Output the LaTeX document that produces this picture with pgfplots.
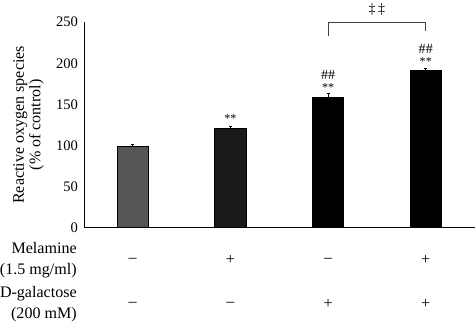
\documentclass[border=0pt]{standalone}
\usepackage{fontspec}
\setmainfont{Liberation Serif}
\usepackage{pgfplots}
\pgfplotsset{compat=1.18}
\definecolor{barA}{HTML}{555555}
\definecolor{barB}{HTML}{1A1A1A}
\definecolor{barC}{HTML}{000000}
\begin{document}
\begin{tikzpicture}
\begin{axis}[
  scale only axis,
  width=388bp, height=204bp,
  xmin=-0.5, xmax=3.5,
  ymin=0, ymax=250,
  ytick={0,50,100,150,200,250},
  xtick=\empty,
  axis x line=bottom, axis y line=left,
  axis line style={-, black, line width=0.8pt},
  major tick length=0pt,
  tick label style={font=\fontsize{14.5}{16}\selectfont},
  /pgf/number format/assume math mode=true,
  yticklabel style={xshift=-2.5bp},
  ylabel={Reactive oxygen species\\(\% of control)},
  ylabel style={align=center, font=\fontsize{16}{16.5}\selectfont, at={(axis description cs:-0.142,0.5)}, anchor=center},
  clip=false,
  ybar, bar width=0.32, bar shift=0pt,
]
\addplot[fill=barA, draw=black, line width=0.6pt, error bars/.cd, y dir=plus, y explicit, error bar style={black, line width=0.6pt}, error mark options={rotate=90, mark size=1.5pt, black}]
  coordinates {(0,99.5) +- (0,1.5)};
\addplot[fill=barB, draw=black, line width=0.6pt, error bars/.cd, y dir=plus, y explicit, error bar style={black, line width=0.6pt}, error mark options={rotate=90, mark size=1.5pt, black}]
  coordinates {(1,120.5) +- (0,2.5)};
\addplot[fill=barC, draw=black, line width=0.6pt, error bars/.cd, y dir=plus, y explicit, error bar style={black, line width=0.6pt}, error mark options={rotate=90, mark size=1.5pt, black}]
  coordinates {(2,158) +- (0,5.5)};
\addplot[fill=barC, draw=black, line width=0.6pt, error bars/.cd, y dir=plus, y explicit, error bar style={black, line width=0.6pt}, error mark options={rotate=90, mark size=1.5pt, black}]
  coordinates {(3,191) +- (0,3)};
% significance marks
\def\sigfont{\fontsize{12}{13}\selectfont}
\def\hashfont{\fontsize{14}{15}\selectfont}
\node[font=\sigfont] at (axis cs:1,133) {**};
\node[font=\sigfont] at (axis cs:2,170) {**};
\node[font=\hashfont] at (axis cs:2,186) {\#\#};
\node[font=\sigfont] at (axis cs:3,202) {**};
\node[font=\hashfont] at (axis cs:3,218) {\#\#};
% bracket
\draw[line width=0.7pt, black!75] (axis cs:2,233) -- (axis cs:2,250) -- (axis cs:3,250) -- (axis cs:3,239);
\node[font=\fontsize{14}{15}\selectfont] at (axis cs:2.5,266) {\ddag\,\ddag};
% treatment table
\def\rowfont{\fontsize{16}{21}\selectfont}
\node[anchor=east, align=right, font=\rowfont, inner sep=0pt] at ([xshift=-7bp]axis cs:-0.5,-39.8) {Melamine\\(1.5 mg/ml)};
\node[anchor=east, align=right, font=\rowfont, inner sep=0pt] at ([xshift=-7bp]axis cs:-0.5,-93.1) {D-galactose\\(200 mM)};
\node[font=\rowfont] at (axis cs:0,-39.8) {–};
\node[font=\rowfont] at (axis cs:1,-39.8) {+};
\node[font=\rowfont] at (axis cs:2,-39.8) {–};
\node[font=\rowfont] at (axis cs:3,-39.8) {+};
\node[font=\rowfont] at (axis cs:0,-93.1) {–};
\node[font=\rowfont] at (axis cs:1,-93.1) {–};
\node[font=\rowfont] at (axis cs:2,-93.1) {+};
\node[font=\rowfont] at (axis cs:3,-93.1) {+};
\end{axis}
\end{tikzpicture}
\end{document}
